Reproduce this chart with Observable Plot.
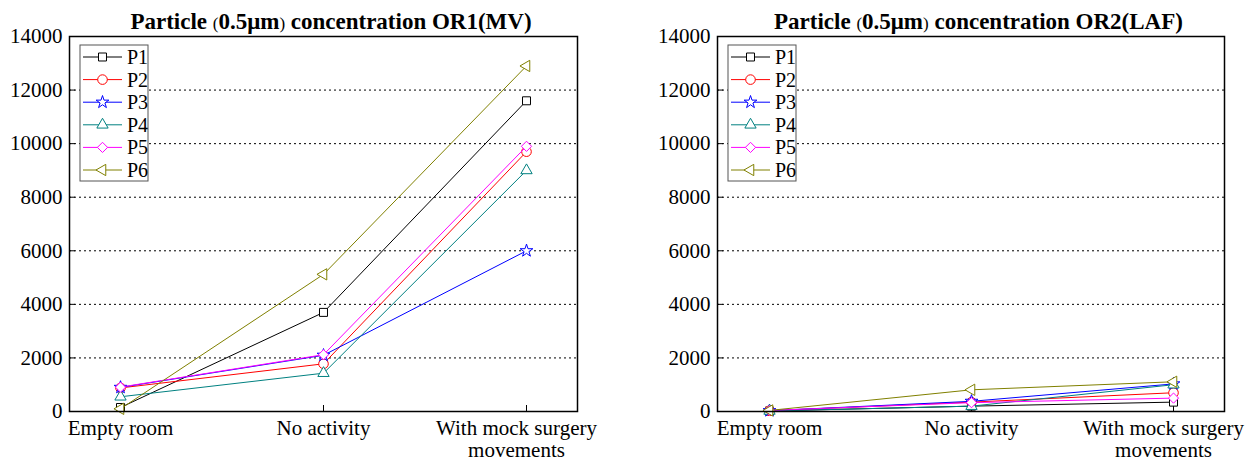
<!DOCTYPE html>
<html><head><meta charset="utf-8">
<script src="https://cdn.jsdelivr.net/npm/d3@7"></script>
<script src="https://cdn.jsdelivr.net/npm/@observablehq/plot@0.6"></script>
<style>
html,body{margin:0;padding:0;background:#fff;}
#wrap{position:relative;width:1260px;height:463px;overflow:hidden;background:#fff;}
#wrap > div{position:absolute;top:0;}
svg text{font-family:"Liberation Serif","Times New Roman",serif !important;}
</style></head><body>
<div id="wrap"><div id="c1" style="left:0"></div><div id="c2" style="left:630px"></div></div>
<script>
// ---- data ----
const categories = ["Empty room", "No activity", "With mock surgery movements"];
const tickLabels = ["Empty room", "No activity", "With mock surgery\nmovements"];
const seriesNames = ["P1", "P2", "P3", "P4", "P5", "P6"];
const seriesColors = ["#000000", "#ff0000", "#0000ff", "#008080", "#ff00ff", "#808000"];
const yTicks = [0, 2000, 4000, 6000, 8000, 10000, 12000, 14000];

// OR1 (MV)
const or1P1 = [150, 3700, 11600];
const or1P2 = [880, 1780, 9700];
const or1P3 = [900, 2100, 6000];
const or1P4 = [550, 1430, 9000];
const or1P5 = [910, 2120, 9900];
const or1P6 = [100, 5120, 12900];

// OR2 (LAF)
const or2P1 = [20, 200, 350];
const or2P2 = [30, 350, 700];
const or2P3 = [30, 380, 1030];
const or2P4 = [20, 200, 1000];
const or2P5 = [40, 330, 500];
const or2P6 = [40, 810, 1110];

const triangleLeft = {
  draw(ctx, size) {
    const y = Math.sqrt(size / (3 * Math.sqrt(3)));
    ctx.moveTo(-2 * y, 0);
    ctx.lineTo(y, Math.sqrt(3) * y);
    ctx.lineTo(y, -Math.sqrt(3) * y);
    ctx.closePath();
  }
};
const seriesSymbols = [d3.symbolSquare, d3.symbolCircle, d3.symbolStar, d3.symbolTriangle, d3.symbolDiamond2, triangleLeft];
const seriesR = [4.5, 4.8, 4.0, 4.2, 4.6, 4.2];

const FONT = '"Liberation Serif", "Times New Roman", serif';

function makeChart(el, titleParts, values, ml, mr) {
  const W = 630, H = 463, mt = 36, mb = 52;
  const pw = W - ml - mr, ph = H - mt - mb;
  const marks = [
    Plot.gridY(yTicks.slice(1, -1), {stroke: "black", strokeOpacity: 1, strokeWidth: 1, strokeDasharray: "2,3"}),
    Plot.tickY(yTicks, {y: d => d, stroke: "black", strokeWidth: 1, insetRight: pw - 6}),
    Plot.tickX(categories, {x: d => d, stroke: "black", strokeWidth: 1, insetTop: ph - 6}),
    Plot.axisY(yTicks, {tickSize: 0, tickPadding: 7, fontSize: 21, label: null, tickFormat: d => String(d)}),
    Plot.axisX(categories.slice(0, 2), {tickSize: 0, tickPadding: 7, fontSize: 21, label: null,
      tickFormat: d => tickLabels[categories.indexOf(d)], lineHeight: 1.08}),
    Plot.axisX(categories.slice(2), {tickSize: 0, tickPadding: 7, fontSize: 21, label: null, dx: -10,
      tickFormat: d => tickLabels[categories.indexOf(d)], lineHeight: 1.08})
  ];
  values.forEach((vals, i) => {
    const rows = categories.map((c, j) => ({cat: c, value: vals[j]}));
    marks.push(Plot.line(rows, {x: "cat", y: "value", stroke: seriesColors[i], strokeWidth: 1}));
    marks.push(Plot.dot(rows, {x: "cat", y: "value", stroke: seriesColors[i], fill: "white", strokeWidth: 1,
      symbol: seriesSymbols[i], r: seriesR[i]}));
  });
  marks.push(Plot.frame({stroke: "black", strokeWidth: 1.5}));

  const svg = Plot.plot({
    width: W, height: H,
    marginLeft: ml, marginRight: mr, marginTop: mt, marginBottom: mb,
    style: {fontFamily: FONT, fontSize: "21px", background: "white", color: "black", overflow: "visible"},
    x: {type: "point", domain: categories, padding: 0.25},
    y: {domain: [0, 14000]},
    marks
  });

  const s = d3.select(svg);
  // title
  const t = s.append("text")
    .attr("x", ml + pw / 2 + 8).attr("y", 29)
    .attr("text-anchor", "middle")
    .style("font-family", FONT).attr("font-weight", "bold").attr("font-size", 23).attr("fill", "black");
  titleParts.forEach(p => {
    const ts = t.append("tspan").text(p.text);
    if (p.small) ts.attr("font-size", 17).attr("font-weight", "normal");
  });

  // legend
  const lx = ml + 11, ly = 45, lw = 68, lh = 136, step = 22.6;
  const g = s.append("g");
  g.append("rect").attr("x", lx).attr("y", ly).attr("width", lw).attr("height", lh)
    .attr("fill", "white").attr("stroke", "#555").attr("stroke-width", 1);
  seriesNames.forEach((name, i) => {
    const cy = ly + 12 + i * step;
    g.append("line").attr("x1", lx + 3).attr("x2", lx + 42).attr("y1", cy).attr("y2", cy)
      .attr("stroke", seriesColors[i]).attr("stroke-width", 1);
    g.append("path").attr("transform", `translate(${lx + 22.5},${cy})`)
      .attr("d", d3.symbol().type(seriesSymbols[i]).size(Math.PI * seriesR[i] * seriesR[i])())
      .attr("fill", "white").attr("stroke", seriesColors[i]).attr("stroke-width", 1);
    g.append("text").attr("x", lx + 47).attr("y", cy + 7).attr("text-anchor", "start")
      .style("font-family", FONT).attr("font-size", 20).attr("fill", "black").text(name);
  });

  document.getElementById(el).appendChild(svg);
}

makeChart("c1", [
  {text: "Particle "}, {text: "(", small: true}, {text: "0.5μm"}, {text: ")", small: true},
  {text: " concentration OR1(MV)"}
], [or1P1, or1P2, or1P3, or1P4, or1P5, or1P6], 69, 53);

makeChart("c2", [
  {text: "Particle "}, {text: "(", small: true}, {text: "0.5μm"}, {text: ")", small: true},
  {text: " concentration OR2(LAF)"}
], [or2P1, or2P2, or2P3, or2P4, or2P5, or2P6], 87, 36);
</script>
</body></html>
